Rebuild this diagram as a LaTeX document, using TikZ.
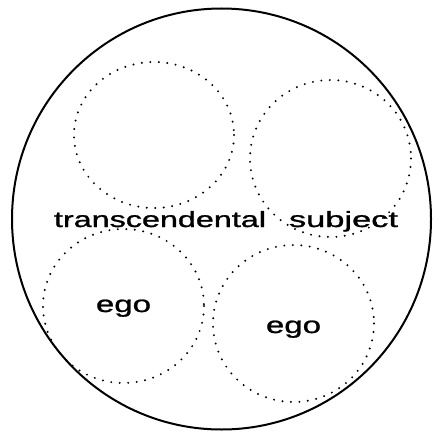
\documentclass[tikz,border=0pt]{standalone}
\usepackage{fontspec}
\setmainfont{Liberation Sans}[FakeBold=1.0]
\begin{document}
\begin{tikzpicture}[x=1pt,y=-1pt,
  outer/.style={draw=black,line width=2pt},
  dotring/.style={draw=black,line width=2.2pt,line cap=round,dash pattern=on 0pt off 8.5pt},
  lbl/.style={inner sep=0pt,outer sep=0pt,anchor=base west}]
\useasboundingbox (0,0) rectangle (432,436);
\draw[outer] (221.5,219) ellipse [x radius=209.5,y radius=210.5];
\draw[dotring] (154,135) ellipse [x radius=80,y radius=73];
\draw[dotring] (330.5,158.5) ellipse [x radius=80.5,y radius=78.5];
\draw[dotring] (123.5,306) ellipse [x radius=80.5,y radius=77];
\draw[dotring] (293.5,323.5) ellipse [x radius=80.5,y radius=78.5];
\node[lbl] (ts) at (54,227) {\resizebox{212pt}{16pt}{transcendental}};
\node[lbl] (sj) at (289,227) {\resizebox{109pt}{16pt}{subject}};
\node[lbl] (e1) at (96,312) {\resizebox{55pt}{12.5pt}{ego}};
\node[lbl] (e2) at (266,333) {\resizebox{55pt}{12.5pt}{ego}};
\end{tikzpicture}
\end{document}
